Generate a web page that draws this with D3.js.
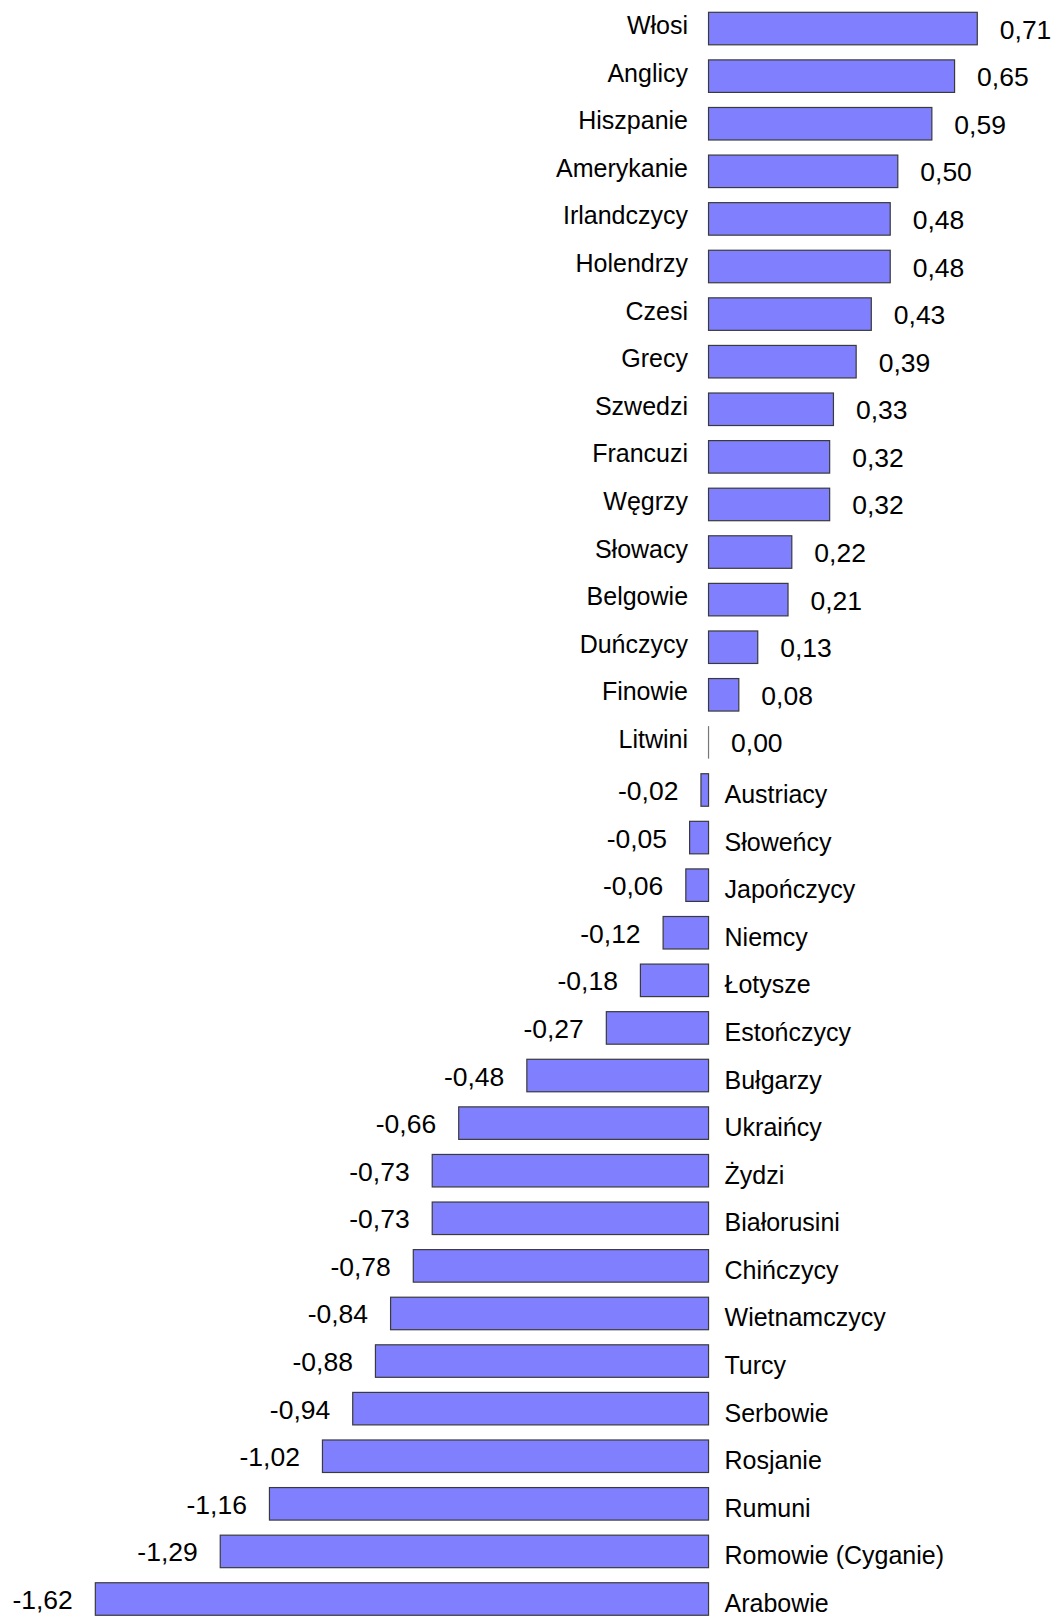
<!DOCTYPE html>
<html>
<head>
<meta charset="utf-8">
<script src="https://cdn.jsdelivr.net/npm/d3@7"></script>
<style>
  html, body { margin: 0; padding: 0; background: #fff; }
  svg { display: block; }
  text { font-family: Arial, "Liberation Sans", sans-serif; fill: #000; }
</style>
</head>
<body>
<svg id="chart" width="1055" height="1616"></svg>
<script>
const categories = [
  "Włosi", "Anglicy", "Hiszpanie", "Amerykanie", "Irlandczycy", "Holendrzy",
  "Czesi", "Grecy", "Szwedzi", "Francuzi", "Węgrzy", "Słowacy", "Belgowie",
  "Duńczycy", "Finowie", "Litwini", "Austriacy", "Słoweńcy", "Japończycy",
  "Niemcy", "Łotysze", "Estończycy", "Bułgarzy", "Ukraińcy", "Żydzi",
  "Białorusini", "Chińczycy", "Wietnamczycy", "Turcy", "Serbowie", "Rosjanie",
  "Rumuni", "Romowie (Cyganie)", "Arabowie"
];
const values = [
  0.71, 0.65, 0.59, 0.50, 0.48, 0.48,
  0.43, 0.39, 0.33, 0.32, 0.32, 0.22, 0.21,
  0.13, 0.08, 0.00, -0.02, -0.05, -0.06,
  -0.12, -0.18, -0.27, -0.48, -0.66, -0.73,
  -0.73, -0.78, -0.84, -0.88, -0.94, -1.02,
  -1.16, -1.29, -1.62
];
const xDomain = [-1.8, 0.9];

const data = categories.map((c, i) => ({ c, v: values[i] }));

const locale = d3.formatLocale({ decimal: ",", thousands: " ", grouping: [3], currency: ["", ""], minus: "-" });
const fmt = locale.format(".2f");

const svg = d3.select("#chart");
const x = d3.scaleLinear().domain(xDomain).range([27.2, 1049.2]);
const y = d3.scaleBand().domain(categories).range([4.76, 1622.8])
  .paddingInner(0.317).paddingOuter(0.1585);

const x0 = x(0);
const bh = y.bandwidth();

const g = svg.append("g");

// bars
g.selectAll("rect.bar").data(data.filter(d => d.v !== 0)).join("rect")
  .attr("class", "bar")
  .attr("x", d => Math.min(x(d.v), x0))
  .attr("y", d => y(d.c))
  .attr("width", d => Math.abs(x(d.v) - x0))
  .attr("height", bh)
  .attr("fill", "#8080FF")
  .attr("stroke", "#3a3a3a")
  .attr("stroke-width", 1.2);

// zero-valued bars drawn as a line
g.selectAll("line.zero").data(data.filter(d => d.v === 0)).join("line")
  .attr("class", "zero")
  .attr("x1", x0).attr("x2", x0)
  .attr("y1", d => y(d.c)).attr("y2", d => y(d.c) + bh)
  .attr("stroke", "#777")
  .attr("stroke-width", 1.2);

// category labels
g.selectAll("text.cat").data(data).join("text")
  .attr("class", "cat")
  .attr("font-size", 25)
  .attr("x", d => d.v >= 0 ? x0 - 20.5 : x0 + 16)
  .attr("y", d => y(d.c) + bh / 2 + (d.v >= 0 ? 5.5 : 13))
  .attr("text-anchor", d => d.v >= 0 ? "end" : "start")
  .text(d => d.c);

// value labels
g.selectAll("text.val").data(data).join("text")
  .attr("class", "val")
  .attr("font-size", 26.5)
  .attr("x", d => d.v >= 0 ? x(d.v) + 22.5 : x(d.v) - 22.5)
  .attr("y", d => y(d.c) + bh / 2 + 10)
  .attr("text-anchor", d => d.v >= 0 ? "start" : "end")
  .text(d => fmt(d.v));
</script>
</body>
</html>
